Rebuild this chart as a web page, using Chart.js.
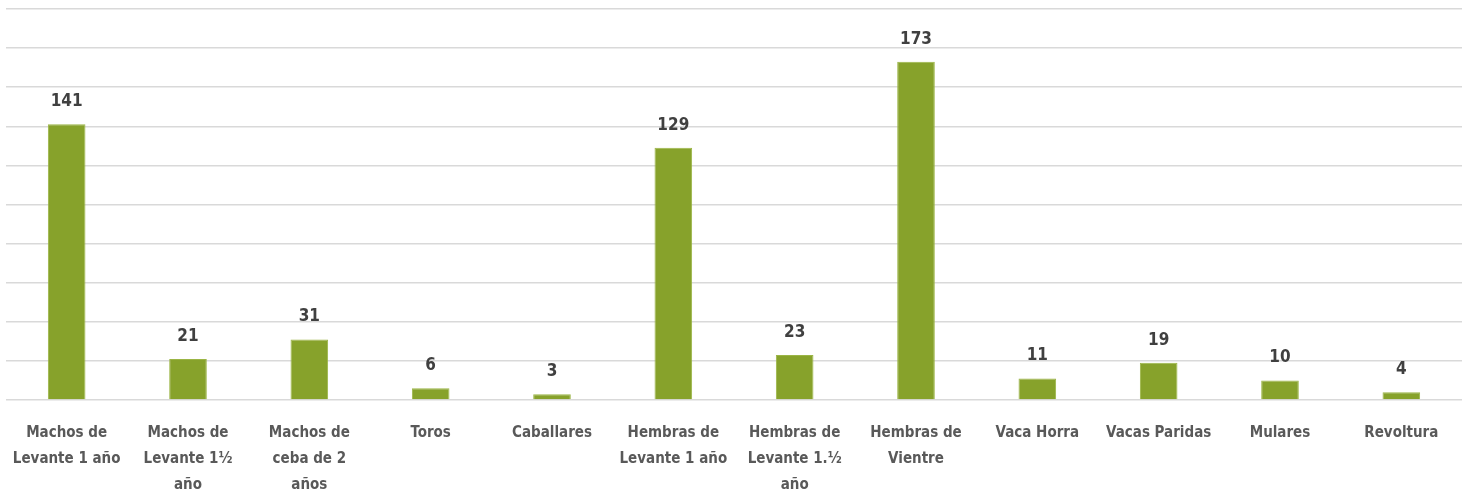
<!DOCTYPE html>
<html>
<head>
<meta charset="utf-8">
<script src="https://cdn.jsdelivr.net/npm/chart.js@4"></script>
<style>
  html, body { margin: 0; padding: 0; background: #fff; }
  #wrap { width: 1468px; height: 495px; }
</style>
</head>
<body>
<div id="wrap"><canvas id="chart"></canvas></div>
<script>
// categories (split in lines as in the picture)
let categories = [
  ['Machos de', 'Levante 1 año'],
  ['Machos de', 'Levante 1½', 'año'],
  ['Machos de', 'ceba de 2', 'años'],
  'Toros',
  'Caballares',
  ['Hembras de', 'Levante 1 año'],
  ['Hembras de', 'Levante 1.½', 'año'],
  ['Hembras de', 'Vientre'],
  'Vaca Horra',
  'Vacas Paridas',
  'Mulares',
  'Revoltura'
];
let cantidades = [141, 21, 31, 6, 3, 129, 23, 173, 11, 19, 10, 4];
let yMin = 0, yMax = 200, yStep = 20;

const FONT = "'DejaVu Sans Condensed', 'Liberation Sans Narrow', sans-serif";

/**
 * Draws the value above every bar.
 */
const valueLabels = {
  id: 'valueLabels',
  afterDatasetsDraw(chart) {
    let ctx = chart.ctx;
    ctx.save();
    ctx.font = 'bold 17px ' + FONT;
    ctx.fillStyle = '#404040';
    ctx.textAlign = 'center';
    ctx.textBaseline = 'bottom';
    chart.getDatasetMeta(0).data.forEach((bar, i) => {
      ctx.fillText(chart.data.datasets[0].data[i], bar.x, bar.y - 14);
    });
    ctx.restore();
  }
};

let ctx = document.getElementById('chart').getContext('2d');
new Chart(ctx, {
  type: 'bar',
  data: {
    labels: categories,
    datasets: [{
      data: cantidades,
      backgroundColor: '#87A22B',
      borderColor: '#9BB545',
      borderWidth: 1,
      barPercentage: 0.31,
      categoryPercentage: 1
    }]
  },
  options: {
    responsive: true,
    maintainAspectRatio: false,
    animation: false,
    layout: { padding: { left: 6, right: 6, top: 9, bottom: 0 } },
    plugins: { legend: { display: false }, tooltip: { enabled: false } },
    scales: {
      x: {
        grid: { display: false },
        border: { display: false },
        afterFit(scale) { scale.height = 95; },
        ticks: {
          autoSkip: false, maxRotation: 0, minRotation: 0, padding: 12,
          color: '#595959',
          font: { family: FONT, size: 15, weight: 'bold', lineHeight: 1.73 }
        }
      },
      y: {
        min: yMin, max: yMax,
        grid: { color: '#D9D9D9', lineWidth: 1.5, drawTicks: false },
        border: { display: false },
        ticks: { display: false, stepSize: yStep }
      }
    }
  },
  plugins: [valueLabels]
});
</script>
</body>
</html>
